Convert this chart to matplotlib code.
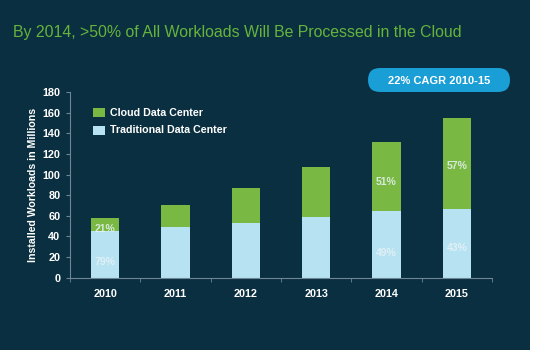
import matplotlib.pyplot as plt
from matplotlib.patches import Rectangle, FancyBboxPatch
from matplotlib.transforms import IdentityTransform
import numpy as np

plt.rcParams['font.family'] = ['Liberation Sans', 'DejaVu Sans']

# data
years = ['2010', '2011', '2012', '2013', '2014', '2015']
traditional = [45.5, 49.4, 52.7, 58.8, 64.3, 66.6]
cloud = [12.5, 21.3, 33.9, 48.8, 67.5, 88.4]

# percent labels: (year index, text, y position)
pct_labels = [(0, '21%', 47), (0, '79%', 15),
              (4, '51%', 93), (4, '49%', 24),
              (5, '57%', 108), (5, '43%', 29)]

bg = '#0a2f40'
green = '#78b843'
light_blue = '#b6e2f2'
axis_col = '#6f8794'

fig = plt.figure(figsize=(5.39, 3.55), dpi=100, facecolor='white')
fig.patches.append(Rectangle((0, 5 / 355), 530 / 539, 350 / 355,
                             transform=fig.transFigure, facecolor=bg,
                             edgecolor='none', zorder=-5))

ax = fig.add_axes([70 / 539, (355 - 277.7) / 355, 422 / 539, 0.523])
ax.set_facecolor('none')

x = np.arange(len(years))
ax.bar(x, traditional, width=0.4, color=light_blue, zorder=2)
ax.bar(x, cloud, width=0.4, bottom=traditional, color=green, zorder=2)

for i, txt, y in pct_labels:
    ax.text(x[i], y, txt, ha='center', va='center', color='#e8f2f6',
            fontsize=7.5, fontweight='bold', alpha=0.85, zorder=3)

ax.set_xlim(-0.5, 5.5)
ax.set_ylim(0, 180)
ax.set_yticks(range(0, 181, 20))
ax.set_xticks(x)
ax.set_xticklabels(years)
ax.set_xticks(np.arange(-0.5, 5.6, 1), minor=True)
ax.tick_params(axis='x', which='major', length=0, pad=8,
               labelsize=7.8, labelcolor='white')
ax.tick_params(axis='x', which='minor', length=3, color=axis_col)
ax.tick_params(axis='y', length=3, color=axis_col, pad=4,
               labelsize=7.8, labelcolor='white')
for lab in ax.get_xticklabels() + ax.get_yticklabels():
    lab.set_fontweight('bold')

for s in ['top', 'right']:
    ax.spines[s].set_visible(False)
for s in ['left', 'bottom']:
    ax.spines[s].set_color(axis_col)
    ax.spines[s].set_linewidth(0.8)

ax.set_ylabel('Installed Workloads in Millions', color='white',
              fontsize=7.6, fontweight='bold')
ax.yaxis.set_label_coords(-0.076, 0.5)

# legend drawn by hand to match the slide
leg = [(green, 'Cloud Data Center', 112.5), (light_blue, 'Traditional Data Center', 130.5)]
for col, name, py in leg:
    fig.patches.append(Rectangle((93 / 539, (355 - py - 4.5) / 355), 12 / 539, 9 / 355,
                                 transform=fig.transFigure, facecolor=col,
                                 edgecolor='none'))
    fig.text(110 / 539, (355 - py) / 355, name, color='white', fontsize=7.7,
             fontweight='bold', va='center', ha='left')

# title
fig.text(13 / 539, (355 - 32) / 355,
         'By 2014, >50% of All Workloads Will Be Processed in the Cloud',
         color='#66b33c', fontsize=11.45, va='center', ha='left')

# CAGR badge (pixel coordinates)
fig.patches.append(FancyBboxPatch((368, 355 - 92), 142, 24,
                                  boxstyle='round,pad=0,rounding_size=12',
                                  transform=IdentityTransform(), facecolor='#1a9ed6',
                                  edgecolor='none'))
fig.text(439 / 539, (355 - 80.5) / 355, '22% CAGR 2010-15', color='white',
         fontsize=8, fontweight='bold', va='center', ha='center')

fig.savefig('out.png', dpi=100, facecolor=fig.get_facecolor())
